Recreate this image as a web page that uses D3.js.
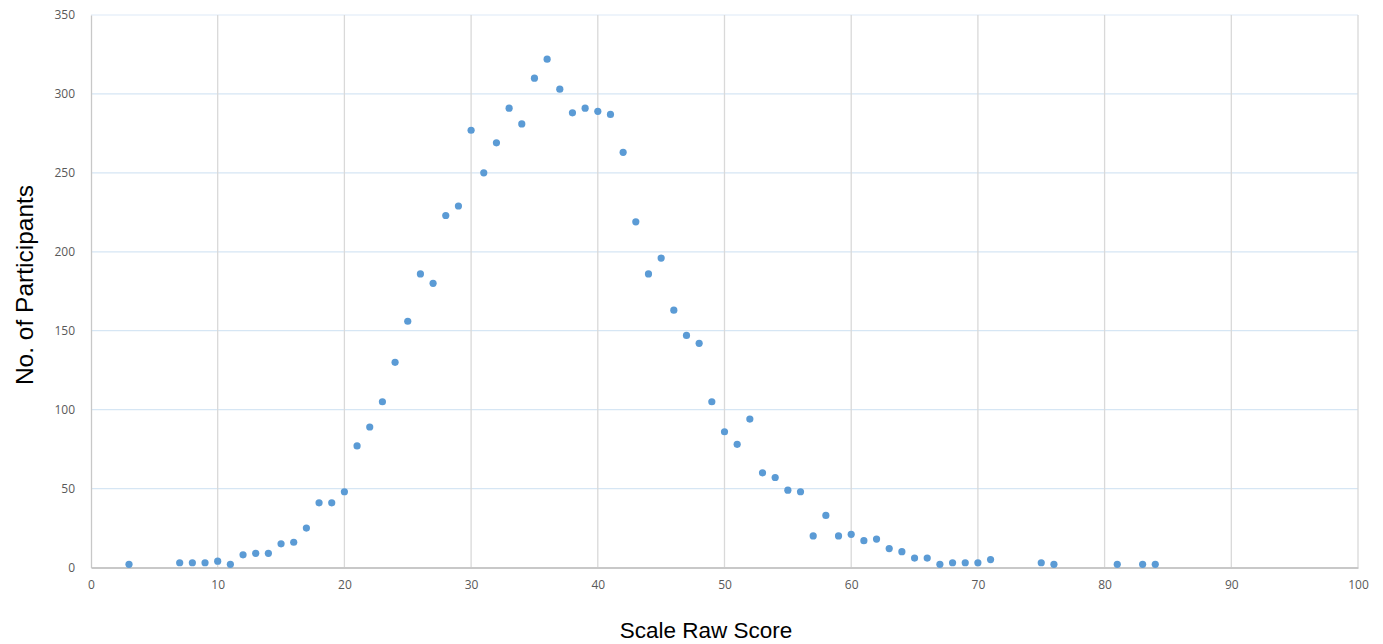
<!DOCTYPE html>
<html>
<head>
<meta charset="utf-8">
<script src="https://cdn.jsdelivr.net/npm/d3@7"></script>
<style>
  html, body { margin: 0; padding: 0; background: #fff; }
  svg { display: block; }
</style>
</head>
<body>
<svg id="chart" width="1383" height="644"></svg>
<script>
const scores = [3, 7, 8, 9, 10, 11, 12, 13, 14, 15, 16, 17, 18, 19, 20,
  21, 22, 23, 24, 25, 26, 27, 28, 29, 30, 31, 32, 33, 34, 35, 36, 37, 38, 39, 40,
  41, 42, 43, 44, 45, 46, 47, 48, 49, 50, 51, 52, 53, 54, 55, 56, 57, 58, 59, 60,
  61, 62, 63, 64, 65, 66, 67, 68, 69, 70, 71, 75, 76, 81, 83, 84];
const participants = [2, 3, 3, 3, 4, 2, 8, 9, 9, 15, 16, 25, 41, 41, 48,
  77, 89, 105, 130, 156, 186, 180, 223, 229, 277, 250, 269, 291, 281, 310, 322, 303, 288, 291, 289,
  287, 263, 219, 186, 196, 163, 147, 142, 105, 86, 78, 94, 60, 57, 49, 48, 20, 33, 20, 21,
  17, 18, 12, 10, 6, 6, 2, 3, 3, 3, 5, 3, 2, 2, 2, 2];
const xTicks = [0, 10, 20, 30, 40, 50, 60, 70, 80, 90, 100];
const yTicks = [0, 50, 100, 150, 200, 250, 300, 350];
const xTitle = "Scale Raw Score";
const yTitle = "No. of Participants";

(function () {
const svg = d3.select("#chart");
const pLeft = 91, pRight = 1358, pTop = 15, pBottom = 567.5;

const x = d3.scaleLinear().domain([0, 100]).range([pLeft, pRight]);
const y = d3.scaleLinear().domain([0, 350]).range([pBottom, pTop]);

// horizontal gridlines
svg.append("g")
  .selectAll("line").data(yTicks.filter(d => d > 0)).join("line")
  .attr("x1", pLeft).attr("x2", pRight)
  .attr("y1", d => y(d)).attr("y2", d => y(d))
  .attr("stroke", d => d === 350 ? "#e8f1fa" : "#d6e6f4").attr("stroke-width", 1.3);

// vertical gridlines
svg.append("g")
  .selectAll("line").data(xTicks.filter(d => d > 0)).join("line")
  .attr("x1", d => x(d)).attr("x2", d => x(d))
  .attr("y1", pTop).attr("y2", pBottom)
  .attr("stroke", "#d9d9d9").attr("stroke-width", 1.3);

// axes
const xAxis = svg.append("g").attr("transform", `translate(0,${pBottom})`)
  .call(d3.axisBottom(x).tickValues(xTicks).tickSize(0).tickPadding(13));
xAxis.select(".domain").attr("stroke", "#c8c8c8").attr("stroke-width", 2);
xAxis.selectAll("text").attr("fill", "#595959").style("font-family", "'Open Sans', 'Liberation Sans', sans-serif").style("font-size", "12px");

const yAxis = svg.append("g").attr("transform", `translate(${pLeft},0)`)
  .call(d3.axisLeft(y).tickValues(yTicks).tickSize(0).tickPadding(16));
yAxis.select(".domain").attr("stroke", "#c8c8c8").attr("stroke-width", 1.3);
yAxis.selectAll("text").attr("fill", "#595959").style("font-family", "'Open Sans', 'Liberation Sans', sans-serif").style("font-size", "12px");

// points
svg.append("g")
  .selectAll("circle").data(scores.map((s, i) => [s, participants[i]])).join("circle")
  .attr("cx", d => x(d[0])).attr("cy", d => y(d[1]))
  .attr("r", 3.6).attr("fill", "#5b9bd5");

// titles
svg.append("text")
  .attr("x", 706).attr("y", 638)
  .attr("text-anchor", "middle")
  .style("font-family", "'Liberation Sans', Arial, sans-serif").style("font-size", "22.5px")
  .attr("fill", "#000").text(xTitle);

svg.append("text")
  .attr("transform", "translate(32.5,285) rotate(-90)")
  .attr("text-anchor", "middle")
  .style("font-family", "'Liberation Sans', Arial, sans-serif").style("font-size", "24.5px")
  .attr("fill", "#000").text(yTitle);
})();
</script>
</body>
</html>
